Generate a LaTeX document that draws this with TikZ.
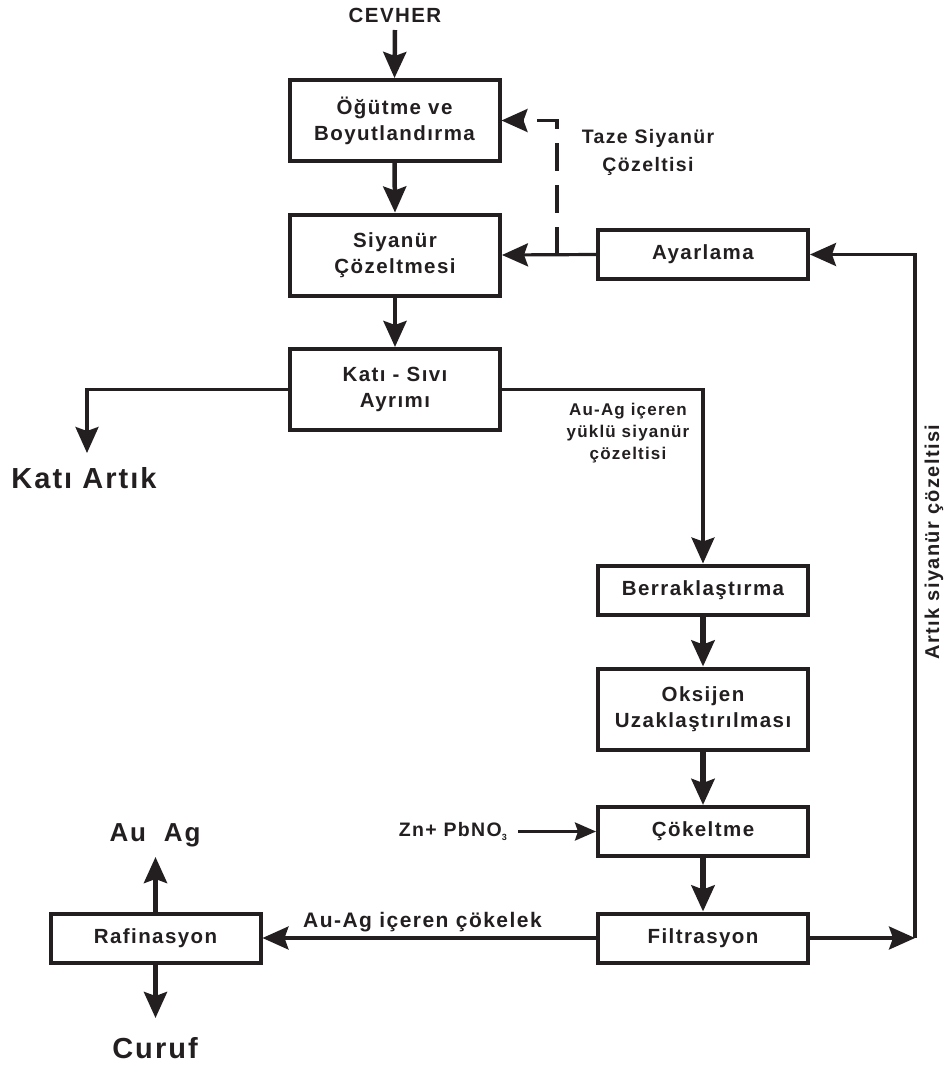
\documentclass[tikz,border=0pt]{standalone}
\usepackage{fontspec}
\setmainfont{Liberation Sans}[LetterSpace=7]
\usetikzlibrary{arrows.meta}
\definecolor{ink}{HTML}{231F20}
\begin{document}
\begin{tikzpicture}[x=1pt,y=-1pt,
  every node/.style={text=ink},
  proc/.style={draw=ink, line width=4pt, inner sep=0pt, align=center, minimum width=210pt, font=\fontsize{20.5}{26}\selectfont\bfseries},
  tallbox/.style={proc, minimum height=81pt},
  flatbox/.style={proc, minimum height=49pt},
  lbl/.style={inner sep=0pt, align=center, font=\fontsize{19.5}{28}\selectfont\bfseries},
  biglbl/.style={inner sep=0pt, font=\fontsize{29}{32}\selectfont\bfseries},
  flow/.style={draw=ink, line width=3.2pt, -{Stealth[length=26pt,width=23pt,inset=4pt]}},
  vflow/.style={flow, line width=4.5pt},
  heavyflow/.style={flow, line width=5.5pt},
  smallflow/.style={draw=ink, line width=3pt, -{Stealth[length=21pt,width=18pt,inset=3pt]}},
  dashflow/.style={flow, line width=3.5pt, dash pattern=on 28pt off 14pt},
  wire/.style={draw=ink, line width=3pt}
]
\useasboundingbox (0,0) rectangle (947,1066);

% process boxes
\node[tallbox] (b1) at (394.5,120.5) {Öğütme ve\\Boyutlandırma};
\node[tallbox] (b2) at (395,255) {Siyanür\\Çözeltmesi};
\node[tallbox] (b3) at (395,389.5) {Katı - Sıvı\\Ayrımı};
\node[flatbox] (ay) at (703,254.5) {Ayarlama};
\node[flatbox] (be) at (703,590) {Berraklaştırma};
\node[tallbox] (ok) at (703,709) {Oksijen\\Uzaklaştırılması};
\node[flatbox] (co) at (703,831.5) {Çökeltme};
\node[flatbox] (fi) at (703,938) {Filtrasyon};
\node[flatbox] (ra) at (155.5,938) {Rafinasyon};

% labels
\node[lbl, font=\fontsize{20.5}{26}\selectfont\bfseries] (cevher) at (395,15) {CEVHER};
\node[lbl] (taze) at (648,152) {Taze Siyanür\\Çözeltisi};
\node[biglbl] (kati) at (84,478) {Katı Artık};
\node[lbl, font=\fontsize{17}{22}\selectfont\bfseries] (yuklu) at (628,433) {Au-Ag içeren\\yüklü siyanür\\çözeltisi};
\node[lbl, rotate=90, font=\fontsize{20}{24}\selectfont\bfseries] (artik) at (934,542) {Artık siyanür çözeltisi};
\node[lbl, anchor=east] (zn) at (507,831.5) {Zn+ PbNO{\fontsize{9}{9}\selectfont\raisebox{-4pt}{3}}};
\node[lbl, anchor=west, font=\fontsize{21}{24}\selectfont\bfseries] (cokelek) at (303,922) {Au-Ag içeren çökelek};
\node[biglbl, font=\fontsize{26}{30}\selectfont\bfseries] (auag) at (155,835) {Au\hspace{18pt}Ag};
\node[biglbl] (curuf) at (155,1048) {Curuf};

% free ends
\coordinate (cin) at (395,30);
\coordinate (kt) at (87,453);
\coordinate (dj) at (557,254.5);
\coordinate (rc) at (915,938);
\coordinate (znout) at (518,831.5);
\coordinate (up) at (155.5,857);
\coordinate (dn) at (155.5,1018);

% connectors
\draw[vflow] (cin) -- (b1.north);
\draw[vflow] (b1.south) -- (b2.north);
\draw[vflow] (b2.south) -- (b3.north);
\draw[flow] (b3.west) -| (kt);
\draw[flow] (b3.east) -| (be.north);
\draw[heavyflow] (be.south) -- (ok.north);
\draw[heavyflow] (ok.south) -- (co.north);
\draw[heavyflow] (co.south) -- (fi.north);
\draw[flow] (ay.west) -- (b2.east);
\draw[dashflow] (dj) |- (b1.east);
\draw[flow] (fi.east) -- (rc);
\draw[flow] (rc) |- (ay.east);
\draw[smallflow] (znout) -- (co.west);
\draw[flow] (fi.west) -- (ra.east);
\draw[vflow] (ra.north) -- (up);
\draw[vflow] (ra.south) -- (dn);
\end{tikzpicture}
\end{document}
